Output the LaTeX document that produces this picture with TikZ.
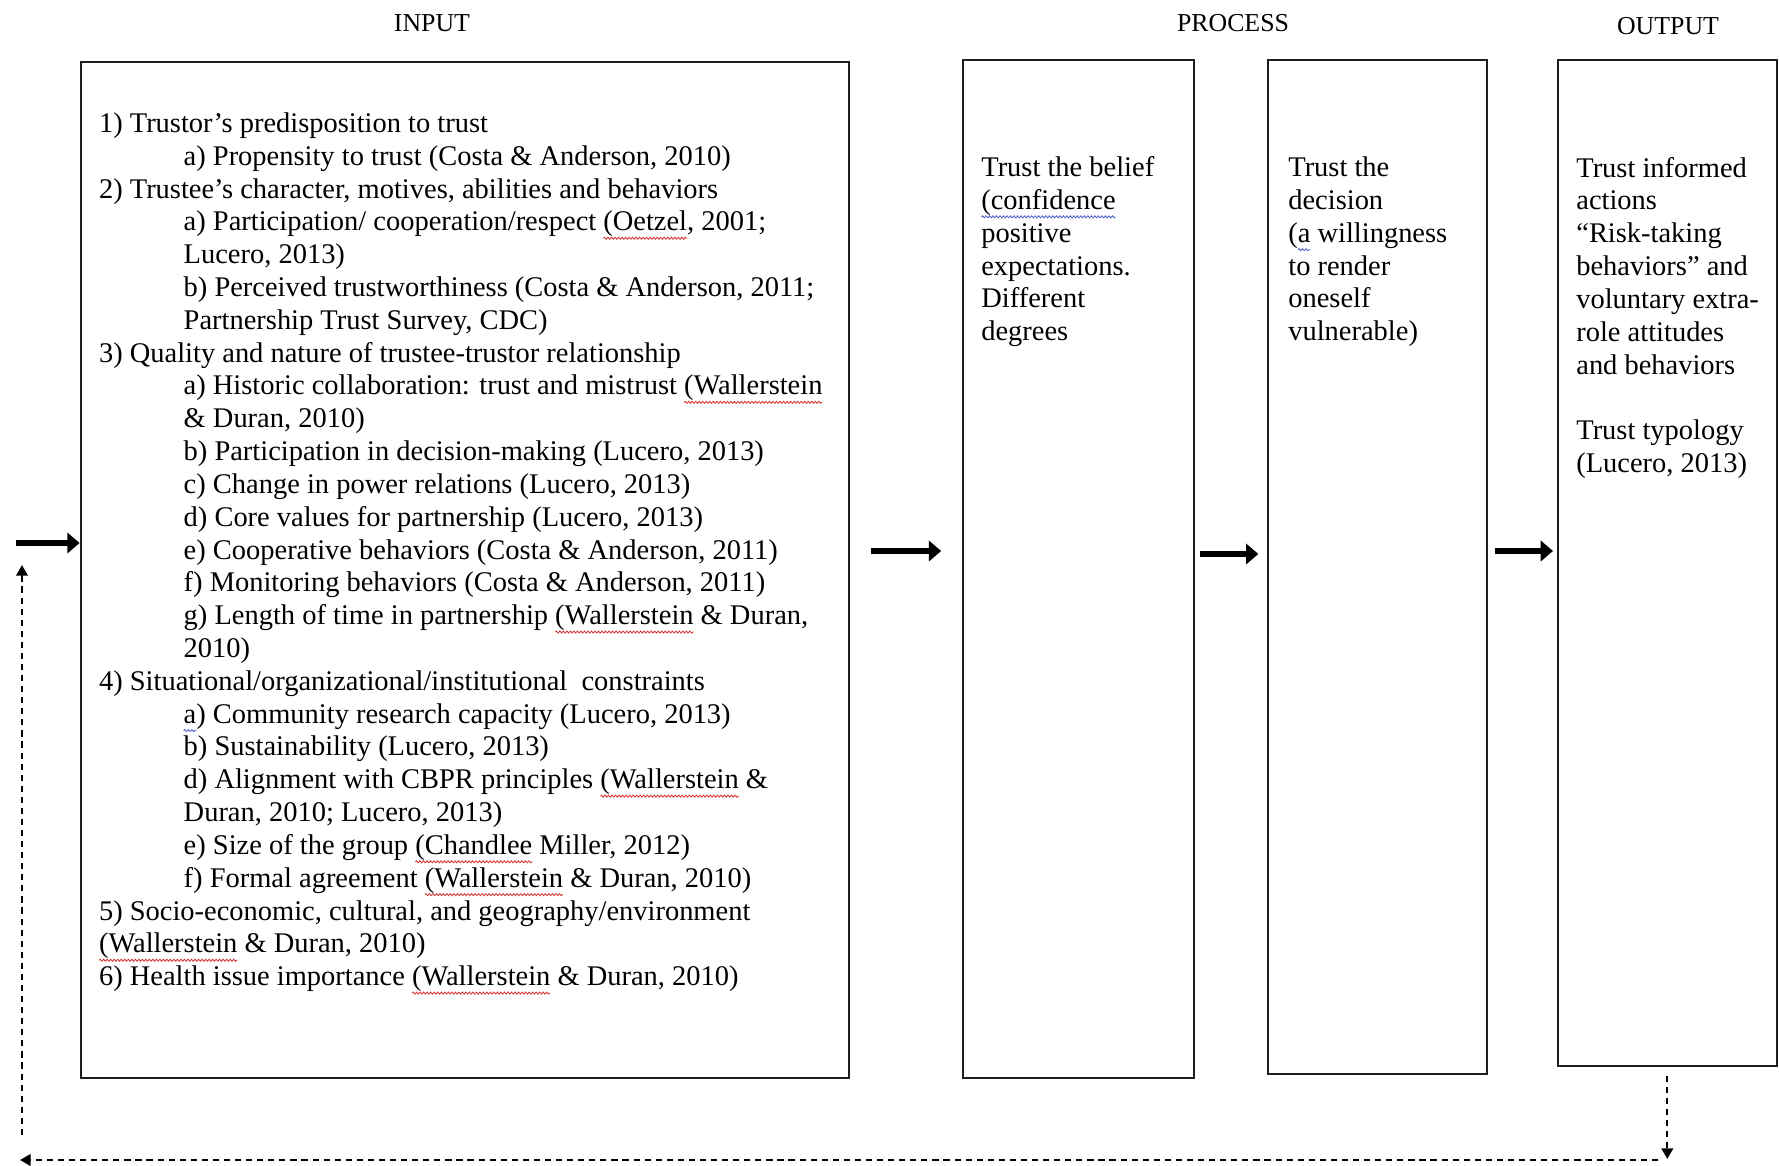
\documentclass[tikz,border=0pt]{standalone}
\usepackage{fontspec}
\setmainfont{Liberation Serif}
\usetikzlibrary{arrows.meta,decorations.pathmorphing}
\definecolor{myline}{RGB}{30,30,30}
\definecolor{mywavered}{RGB}{215,45,45}
\definecolor{mywaveblue}{RGB}{70,95,200}
\newsavebox\wavebox
\newlength\wavewd
\newcommand\wavyline[2]{\sbox\wavebox{#2}\setlength\wavewd{\wd\wavebox}\usebox\wavebox\hspace*{-\wavewd}%
  \tikz[baseline=0pt]{\useasboundingbox (0pt,0pt) rectangle (\wavewd,0pt);
    \draw[#1,line width=0.45pt,decorate,decoration={snake,segment length=2pt,amplitude=0.6pt}] (0pt,-4.2pt) -- (\wavewd,-4.2pt);}}
\newcommand\redwave[1]{\wavyline{mywavered}{#1}}
\newcommand\bluewave[1]{\wavyline{mywaveblue}{#1}}
\newcommand\subind{\hspace*{48.2pt}}

\begin{document}
\begin{tikzpicture}[x=0.02cm,y=-0.02cm,
  box/.style={draw=myline,line width=1.1pt,inner sep=0},
  boxtext/.style={anchor=base west,inner sep=0,align=left,font=\fontsize{16.2}{18.68}\selectfont},
  head/.style={font=\fontsize{14.7}{17}\selectfont},
  bigarrow/.style={line width=3.4pt,-{Triangle[length=7pt,width=11.5pt]}},
  feedback/.style={line width=1.3pt,dash pattern=on 3.5pt off 2.8pt,-{Triangle[length=6pt,width=6.5pt]}}]
\useasboundingbox (0,0) rectangle (1779,1166);
\fill[white] (0,0) rectangle (1779,1166);

% headers
\node[head] (hin) at (432,23) {INPUT};
\node[head] (hproc) at (1233,23) {PROCESS};
\node[head] (hout) at (1668,26) {OUTPUT};

% boxes
\node[box,minimum width=15.37cm,minimum height=20.32cm] (input) at (464.75,570) {};
\node[box,minimum width=4.62cm,minimum height=20.36cm] (belief) at (1078.5,569) {};
\node[box,minimum width=4.38cm,minimum height=20.28cm] (decision) at (1377.75,567.25) {};
\node[box,minimum width=4.38cm,minimum height=20.12cm] (output) at (1667.3,563.25) {};

% texts (base = last line)
\node[boxtext] (intext) at (98.7,985.7) {1) Trustor’s predisposition to trust\\
\subind a) Propensity to trust (Costa \& Anderson, 2010)\\
2) Trustee’s character, motives, abilities and behaviors\\
\subind a) Participation/ cooperation/respect \redwave{(Oetzel}, 2001;\\
\subind Lucero, 2013)\\
\subind b) Perceived trustworthiness (Costa \& Anderson, 2011;\\
\subind Partnership Trust Survey, CDC)\\
3) Quality and nature of trustee-trustor relationship\\
\subind a) Historic collaboration: trust and mistrust \redwave{(Wallerstein}\\
\subind \& Duran, 2010)\\
\subind b) Participation in decision-making (Lucero, 2013)\\
\subind c) Change in power relations (Lucero, 2013)\\
\subind d) Core values for partnership (Lucero, 2013)\\
\subind e) Cooperative behaviors (Costa \& Anderson, 2011)\\
\subind f) Monitoring behaviors (Costa \& Anderson, 2011)\\
\subind g) Length of time in partnership \redwave{(Wallerstein} \& Duran,\\
\subind 2010)\\
4) Situational/organizational/institutional\ \ constraints\\
\subind \bluewave{a}) Community research capacity (Lucero, 2013)\\
\subind b) Sustainability (Lucero, 2013)\\
\subind d) Alignment with CBPR principles \redwave{(Wallerstein} \&\\
\subind Duran, 2010; Lucero, 2013)\\
\subind e) Size of the group \redwave{(Chandlee} Miller, 2012)\\
\subind f) Formal agreement \redwave{(Wallerstein} \& Duran, 2010)\\
5) Socio-economic, cultural, and geography/environment\\
\redwave{(Wallerstein} \& Duran, 2010)\\
6) Health issue importance \redwave{(Wallerstein} \& Duran, 2010)};

\node[boxtext] (belieftext) at (981,340.75) {Trust the belief\\ \bluewave{(confidence}\\ positive\\ expectations.\\ Different\\ degrees};
\node[boxtext] (decisiontext) at (1288,340.75) {Trust the\\ decision\\ (\bluewave{a} willingness\\ to render\\ oneself\\ vulnerable)};
\node[boxtext] (outputtext) at (1576,472.55) {Trust informed\\ actions\\ “Risk-taking\\ behaviors” and\\ voluntary extra-\\ role attitudes\\ and behaviors\\ \mbox{}\\ Trust typology\\ (Lucero, 2013)};

% arrows
\coordinate (fbin) at (16,543);
\coordinate (row1) at (0,551);
\coordinate (row2) at (0,554);
\draw[bigarrow] (fbin) -- (input.west |- fbin);
\draw[bigarrow,shorten <=11.9pt,shorten >=11.9pt] (input.east |- row1) -- (belief.west |- row1);
\draw[bigarrow,shorten <=3.1pt,shorten >=5.1pt] (belief.east |- row2) -- (decision.west |- row2);
\draw[bigarrow,shorten <=3.7pt,shorten >=2.2pt] (decision.east |- row1) -- (output.west |- row1);

% feedback loop
\coordinate (fbcorner) at (1666,1159);
\coordinate (fbright) at (1658,1160);
\coordinate (fbleft) at (20,1160);
\coordinate (fblow) at (22,1135);
\coordinate (fbup) at (22,565);
\draw[feedback,shorten <=5pt] (output.south) -- (output.south |- fbcorner);
\draw[feedback] (fbright) -- (fbleft);
\draw[feedback] (fblow) -- (fbup);
\end{tikzpicture}
\end{document}
